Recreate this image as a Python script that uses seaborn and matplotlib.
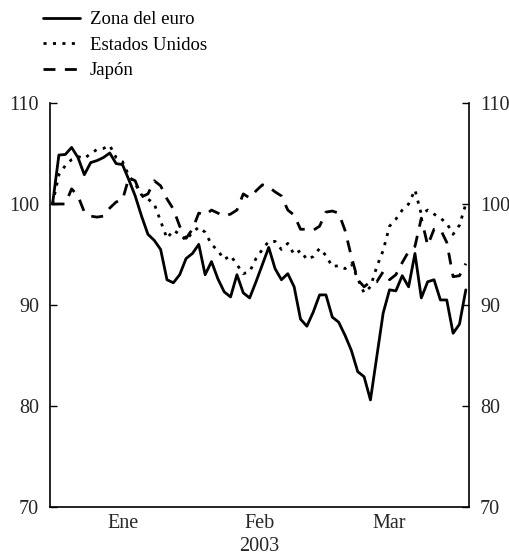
import numpy as np
import pandas as pd
import matplotlib
matplotlib.use("Agg")
import matplotlib.pyplot as plt
import seaborn as sns

# Business-day index (Jan 2003 .. early Apr 2003)
zona_euro = [100.0, 104.85, 104.9, 105.6, 104.6, 102.9, 104.1, 104.3, 104.6, 105.05,
             104.0, 103.9, 102.4, 100.8, 98.8, 97.0, 96.4, 95.5, 92.5, 92.2,
             93.0, 94.6, 95.1, 96.0, 93.0, 94.3, 92.6, 91.3, 90.8, 93.0,
             91.2, 90.7, 92.3, 94.0, 95.7, 93.6, 92.5, 93.1, 91.8, 88.6,
             87.9, 89.3, 91.0, 91.0, 88.8, 88.3, 87.0, 85.5, 83.4, 82.9,
             80.6, 84.9, 89.2, 91.5, 91.4, 92.9, 91.8, 95.1, 90.7, 92.3,
             92.5, 90.5, 90.5, 87.2, 88.1, 91.5]
estados_unidos = [100.0, 102.9, 103.8, 104.4, 104.7, 104.5, 105.0, 105.4, 105.5, 105.8,
                  104.6, 104.2, 102.8, 102.0, 100.9, 100.5, 100.0, 98.3, 96.6, 97.4,
                  97.0, 96.4, 97.2, 97.7, 97.2, 96.0, 95.4, 94.5, 94.9, 94.0,
                  93.1, 93.3, 94.6, 95.5, 96.3, 96.3, 95.5, 96.1, 95.0, 95.4,
                  94.5, 94.8, 95.6, 94.9, 93.8, 93.9, 93.6, 94.1, 92.6, 91.2,
                  91.8, 93.8, 95.4, 97.8, 98.5, 99.4, 100.0, 101.4, 99.0, 99.4,
                  99.0, 98.6, 98.1, 97.0, 97.9, 100.0]
japon = [100.0, 100.0, 100.0, 101.5, 100.8, 99.2, 98.8, 98.7, 98.8, 99.6,
         100.2, 100.4, 102.6, 102.3, 100.7, 101.0, 102.3, 101.8, 100.5, 99.5,
         97.8, 96.6, 97.5, 99.1, 98.9, 99.4, 99.1, 98.8, 99.0, 99.4,
         101.0, 100.6, 101.3, 101.9, 101.7, 101.2, 100.8, 99.4, 98.9, 97.5,
         97.5, 97.4, 97.8, 99.2, 99.3, 99.1, 97.4, 94.8, 92.5, 91.8,
         92.3, 92.3, 93.3, 92.5, 93.0, 94.2, 95.3, 95.8, 98.6, 95.9,
         97.5, 97.5, 96.2, 92.8, 92.9, 94.1]

series_names = ["Zona del euro", "Estados Unidos", "Japón"]
month_labels = ["Ene", "Feb", "Mar"]
month_centers = [11.05, 32.5, 53.0]
month_bounds = [22.5, 42.5, 63.5]
year_label = "2003"
y_ticks = [70, 80, 90, 100, 110]

sns.set_theme(style="white")
plt.rcParams["font.family"] = ["Liberation Serif", "DejaVu Serif"]

fig = plt.figure(figsize=(5.10, 5.55), dpi=100)
ax = fig.add_axes([50/510, 1-507/555, (469-50)/510, (507-103)/555])

idx = np.arange(len(zona_euro))
df = pd.DataFrame({"idx": idx, "euro": zona_euro, "us": estados_unidos, "jp": japon})

sns.lineplot(data=df, x="idx", y="euro", ax=ax, color="black", lw=2.0,
             label=series_names[0])
sns.lineplot(data=df, x="idx", y="us", ax=ax, color="black", lw=2.0,
             label=series_names[1], linestyle=(0, (1.1, 2.3)))
sns.lineplot(data=df, x="idx", y="jp", ax=ax, color="black", lw=2.0,
             label=series_names[2], linestyle=(0, (4.3, 3.4)))

ax.set_xlim(-0.4, 65.5)
ax.set_ylim(70, 110)
ax.set_yticks(y_ticks)
ax.set_xticks(month_bounds)
ax.set_xticklabels([])
ax.set_xticks(month_centers, minor=True)
ax.set_xticklabels(month_labels, minor=True)
ax.tick_params(axis="x", which="minor", length=0, pad=5, labelsize=14.5)
ax.tick_params(axis="x", which="major", direction="in", length=4, width=1, color="black")
ax.tick_params(axis="y", which="both", direction="in", length=5, width=1, color="black",
               left=True, right=True, labelleft=True, labelright=True, labelsize=14.5, pad=8)
ax.set_xlabel(year_label, fontsize=14.5, labelpad=3)
ax.set_ylabel("")

for s in ["left", "right", "bottom"]:
    ax.spines[s].set_visible(True)
    ax.spines[s].set_color("black")
    ax.spines[s].set_linewidth(1.2)
ax.spines["top"].set_visible(False)
ax.grid(False)

leg = ax.legend(loc="upper left", bbox_to_anchor=(43/510, 1-11/555),
                bbox_transform=fig.transFigure, frameon=False, fontsize=13.5,
                handlelength=1.95, handletextpad=0.55, labelspacing=0.45,
                borderpad=0, borderaxespad=0)
for t in leg.get_texts():
    t.set_color("black")

fig.savefig("out.png", dpi=100, facecolor="white")
